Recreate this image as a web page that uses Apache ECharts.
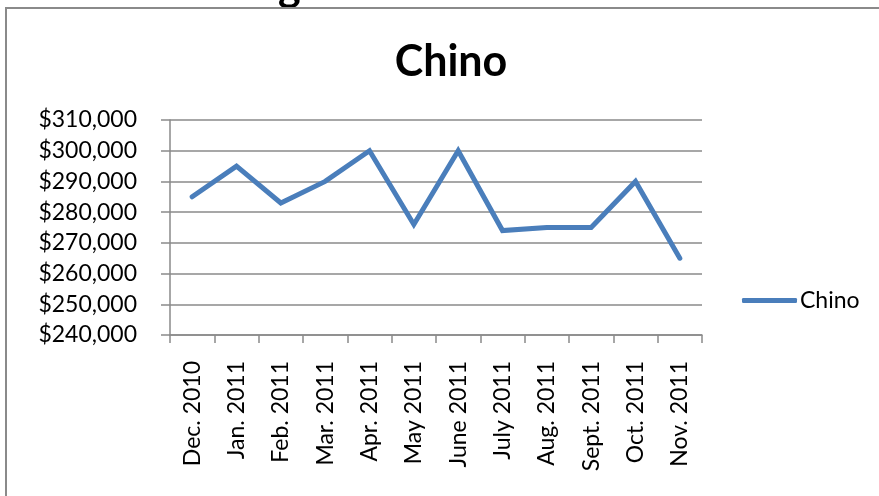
<!DOCTYPE html>
<html>
<head>
<meta charset="utf-8">
<script src="https://cdn.jsdelivr.net/npm/echarts@6/dist/echarts.min.js"></script>
<style>
  html, body { margin: 0; padding: 0; background: #fff; }
  #chart { width: 879px; height: 496px; }
</style>
</head>
<body>
<div id="chart"></div>
<script>
const categories = ['Dec. 2010', 'Jan. 2011', 'Feb. 2011', 'Mar. 2011', 'Apr. 2011', 'May 2011',
  'June 2011', 'July 2011', 'Aug. 2011', 'Sept. 2011', 'Oct. 2011', 'Nov. 2011'];
const chinoValues = [285000, 295000, 283000, 290000, 300000, 276000,
  300000, 274000, 275000, 275000, 290000, 265000];
const seriesName = 'Chino';
const titleText = 'Chino';
const yMin = 240000, yMax = 310000, yStep = 10000;

const FONT = 'Lato';
const chart = echarts.init(document.getElementById('chart'), null, { renderer: 'canvas' });
chart.setOption({
  backgroundColor: '#ffffff',
  animation: false,
  title: {
    text: titleText,
    left: 446,
    top: 36,
    textAlign: 'center',
    textStyle: { fontFamily: FONT, fontWeight: 'bold', fontSize: 43, color: '#000' }
  },
  graphic: [
    {
      type: 'text', left: 278, top: -34, z: 1,
      style: { text: 'g', font: 'bold 43px Lato', fill: '#000' }
    },
    {
      type: 'rect', z: 2,
      shape: { x: 6, y: 8, width: 1000, height: 700 },
      style: { fill: 'none', stroke: '#8a8a8a', lineWidth: 2 }
    }
  ],
  legend: {
    orient: 'vertical',
    left: 737,
    top: 284,
    itemWidth: 55,
    itemHeight: 5,
    data: [{ name: seriesName, icon: 'roundRect' }],
    textStyle: { fontFamily: FONT, fontSize: 23, color: '#000', padding: [0, 0, 0, -2] }
  },
  grid: { left: 170, right: 177, top: 120, bottom: 161, containLabel: false },
  xAxis: {
    type: 'category',
    data: categories,
    boundaryGap: true,
    axisLine: { show: true, lineStyle: { color: '#8a8a8a', width: 1.5 } },
    axisTick: { show: true, length: 8, lineStyle: { color: '#8a8a8a', width: 1.5 } },
    axisLabel: { rotate: 90, margin: 26, interval: 0, fontFamily: FONT, fontSize: 23, color: '#000' },
    splitLine: { show: false }
  },
  yAxis: {
    type: 'value',
    min: yMin, max: yMax, interval: yStep,
    axisLine: { show: true, lineStyle: { color: '#8a8a8a', width: 1.5 } },
    axisTick: { show: true, length: 9, lineStyle: { color: '#8a8a8a', width: 1.5 } },
    axisLabel: {
      margin: 33, fontFamily: FONT, fontSize: 23, color: '#000',
      formatter: v => '$' + v.toLocaleString('en-US')
    },
    splitLine: { show: true, lineStyle: { color: '#8a8a8a', width: 1.5 } }
  },
  series: [{
    name: seriesName,
    type: 'line',
    data: chinoValues,
    symbol: 'none',
    color: '#4a7ebb',
    lineStyle: { width: 5, color: '#4a7ebb', cap: 'round', join: 'miter' }
  }]
});
</script>
</body>
</html>
